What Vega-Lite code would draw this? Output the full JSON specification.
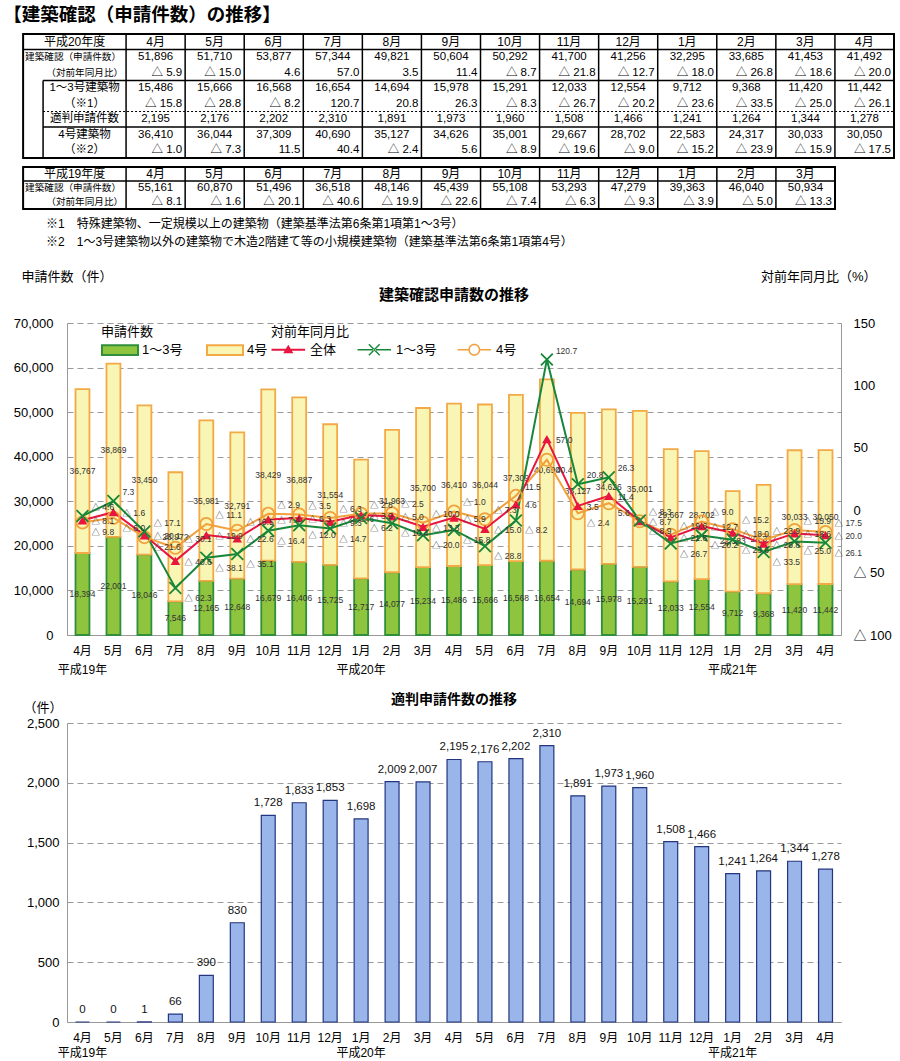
{
  "$schema": "https://vega.github.io/schema/vega-lite/v6.json",
  "padding": {"left": 3, "top": 5, "right": 2, "bottom": 0},
  "title": {"text": "【建築確認（申請件数）の推移】", "anchor": "start", "frame": "bounds", "fontSize": 18.5, "fontWeight": "bold", "dx": -10, "offset": 9},
  "config": {
    "font": "Liberation Sans, Noto Sans CJK JP",
    "view": {"stroke": null},
    "axis": {"labelColor": "#000", "titleColor": "#000"},
    "legend": {"labelColor": "#000", "titleColor": "#000"},
    "title": {"color": "#000"}
  },
  "datasets": {
    "m": [
      {"k": "1904", "tbl": 2, "b13": 18394, "b4": 36767, "tot": 55161, "tp": -8.1, "b13p": -4.6, "b4p": -9.8, "tk": 0},
      {"k": "1905", "tbl": 2, "b13": 22001, "b4": 38869, "tot": 60870, "tp": -1.6, "b13p": 7.3, "b4p": -6.0, "tk": 0},
      {"k": "1906", "tbl": 2, "b13": 18046, "b4": 33450, "tot": 51496, "tp": -20.1, "b13p": -17.1, "b4p": -21.6, "tk": 1},
      {"k": "1907", "tbl": 2, "b13": 7546, "b4": 28972, "tot": 36518, "tp": -40.6, "b13p": -62.3, "b4p": -30.1, "tk": 66},
      {"k": "1908", "tbl": 2, "b13": 12165, "b4": 35981, "tot": 48146, "tp": -19.9, "b13p": -38.1, "b4p": -11.1, "tk": 390},
      {"k": "1909", "tbl": 2, "b13": 12648, "b4": 32791, "tot": 45439, "tp": -22.6, "b13p": -35.1, "b4p": -16.5, "tk": 830},
      {"k": "1910", "tbl": 2, "b13": 16679, "b4": 38429, "tot": 55108, "tp": -7.4, "b13p": -16.4, "b4p": -2.9, "tk": 1728},
      {"k": "1911", "tbl": 2, "b13": 16406, "b4": 36887, "tot": 53293, "tp": -6.3, "b13p": -12.0, "b4p": -3.5, "tk": 1833},
      {"k": "1912", "tbl": 2, "b13": 15725, "b4": 31554, "tot": 47279, "tp": -9.3, "b13p": -14.7, "b4p": -6.3, "tk": 1853},
      {"k": "2001", "tbl": 2, "b13": 12717, "b4": 26646, "tot": 39363, "tp": -3.9, "b13p": -6.2, "b4p": -2.8, "tk": 1698},
      {"k": "2002", "tbl": 2, "b13": 14077, "b4": 31963, "tot": 46040, "tp": -5.0, "b13p": -10.4, "b4p": -2.5, "tk": 2009},
      {"k": "2003", "tbl": 2, "b13": 15234, "b4": 35700, "tot": 50934, "tp": -13.3, "b13p": -20.0, "b4p": -10.0, "tk": 2007},
      {"k": "2004", "tbl": 1, "b13": 15486, "b4": 36410, "tot": 51896, "tp": -5.9, "b13p": -15.8, "b4p": -1.0, "tk": 2195},
      {"k": "2005", "tbl": 1, "b13": 15666, "b4": 36044, "tot": 51710, "tp": -15.0, "b13p": -28.8, "b4p": -7.3, "tk": 2176},
      {"k": "2006", "tbl": 1, "b13": 16568, "b4": 37309, "tot": 53877, "tp": 4.6, "b13p": -8.2, "b4p": 11.5, "tk": 2202},
      {"k": "2007", "tbl": 1, "b13": 16654, "b4": 40690, "tot": 57344, "tp": 57.0, "b13p": 120.7, "b4p": 40.4, "tk": 2310},
      {"k": "2008", "tbl": 1, "b13": 14694, "b4": 35127, "tot": 49821, "tp": 3.5, "b13p": 20.8, "b4p": -2.4, "tk": 1891},
      {"k": "2009", "tbl": 1, "b13": 15978, "b4": 34626, "tot": 50604, "tp": 11.4, "b13p": 26.3, "b4p": 5.6, "tk": 1973},
      {"k": "2010", "tbl": 1, "b13": 15291, "b4": 35001, "tot": 50292, "tp": -8.7, "b13p": -8.3, "b4p": -8.9, "tk": 1960},
      {"k": "2011", "tbl": 1, "b13": 12033, "b4": 29667, "tot": 41700, "tp": -21.8, "b13p": -26.7, "b4p": -19.6, "tk": 1508},
      {"k": "2012", "tbl": 1, "b13": 12554, "b4": 28702, "tot": 41256, "tp": -12.7, "b13p": -20.2, "b4p": -9.0, "tk": 1466},
      {"k": "2101", "tbl": 1, "b13": 9712, "b4": 22583, "tot": 32295, "tp": -18.0, "b13p": -23.6, "b4p": -15.2, "tk": 1241},
      {"k": "2102", "tbl": 1, "b13": 9368, "b4": 24317, "tot": 33685, "tp": -26.8, "b13p": -33.5, "b4p": -23.9, "tk": 1264},
      {"k": "2103", "tbl": 1, "b13": 11420, "b4": 30033, "tot": 41453, "tp": -18.6, "b13p": -25.0, "b4p": -15.9, "tk": 1344},
      {"k": "2104", "tbl": 1, "b13": 11442, "b4": 30050, "tot": 41492, "tp": -20.0, "b13p": -26.1, "b4p": -17.5, "tk": 1278}
    ]
  },
  "spacing": 19,
  "resolve": {"scale": {"color": "independent", "fill": "independent", "stroke": "independent", "shape": "independent"}},
  "vconcat": [
    {
      "spacing": 7,
      "vconcat": [
        {
          "width": 827, "height": 124,
          "data": {"name": "m"},
          "transform": [
            {"filter": "datum.tbl == 1"},
            {"window": [{"op": "row_number", "as": "rn"}], "sort": [{"field": "k"}]},
            {"calculate": "datum.rn - 1", "as": "i"},
            {"calculate": "datum.i + 0.5", "as": "xc"},
            {"calculate": "datum.i + 1", "as": "xr"},
            {"calculate": "toNumber(slice(datum.k, 2)) + '月'", "as": "ml"}
          ],
          "layer": [
            {"mark": {"type": "text", "fontSize": 12},
             "encoding": {
               "x": {"field": "xc", "type": "quantitative", "scale": {"domain": [-1, 13], "nice": false, "zero": false}, "axis": null},
               "y": {"datum": 0, "type": "quantitative", "scale": {"domain": [-0.5, 7.5], "nice": false, "zero": false, "reverse": true}, "axis": null},
               "text": {"field": "ml"}}},
            {"transform": [
               {"fold": ["tot", "b13", "tk", "b4"], "as": ["key", "val"]},
               {"calculate": "indexof(['hdr','tot','tp','b13','b13p','tk','b4','b4p'], datum.key)", "as": "row"},
               {"calculate": "format(datum.val, ',')", "as": "txt"}],
             "mark": {"type": "text", "fontSize": 11.5},
             "encoding": {"x": {"field": "xc", "type": "quantitative"}, "y": {"field": "row", "type": "quantitative"}, "text": {"field": "txt"}}},
            {"transform": [
               {"fold": ["tp", "b13p", "b4p"], "as": ["key", "val"]},
               {"calculate": "indexof(['hdr','tot','tp','b13','b13p','tk','b4','b4p'], datum.key)", "as": "row"},
               {"calculate": "(datum.val < 0 ? '△ ' : '') + format(abs(datum.val), '.1f')", "as": "txt"}],
             "mark": {"type": "text", "fontSize": 11.5, "align": "right", "dx": -3},
             "encoding": {"x": {"field": "xr", "type": "quantitative"}, "y": {"field": "row", "type": "quantitative"}, "text": {"field": "txt"}}},
            {"mark": {"type": "rule", "strokeWidth": 1.5, "color": "#000"},
             "encoding": {"x": {"field": "i", "type": "quantitative"}, "y": {"datum": -0.5}, "y2": {"datum": 7.5}}},
            {"data": {"values": [{"t": "平成20年度"}]}, "mark": {"type": "text", "fontSize": 12},
             "encoding": {"x": {"datum": -0.8715}, "y": {"datum": 0}, "text": {"field": "t"}}},
            {"data": {"values": [{"t": "建築確認（申請件数）"}]}, "mark": {"type": "text", "fontSize": 9.6, "align": "left", "dx": 2},
             "encoding": {"x": {"datum": -1.743}, "y": {"datum": 1}, "text": {"field": "t"}}},
            {"data": {"values": [{"t": "（対前年同月比）"}]}, "mark": {"type": "text", "fontSize": 9.6, "align": "right", "dx": -3},
             "encoding": {"x": {"datum": 0}, "y": {"datum": 2}, "text": {"field": "t"}}},
            {"data": {"values": [{"t": "1～3号建築物", "r": 3}, {"t": "（※1）", "r": 4}, {"t": "適判申請件数", "r": 5}, {"t": "4号建築物", "r": 6}, {"t": "（※2）", "r": 7}]},
             "mark": {"type": "text", "fontSize": 11.5},
             "encoding": {"x": {"datum": -0.7025}, "y": {"field": "r", "type": "quantitative"}, "text": {"field": "t"}}},
            {"data": {"values": [{}]}, "mark": {"type": "rule", "strokeWidth": 1.5, "color": "#000"},
             "encoding": {"x": {"datum": -1.405}, "y": {"datum": 2.5}, "y2": {"datum": 7.5}}},
            {"data": {"values": [{}]}, "mark": {"type": "rule", "strokeWidth": 1.5, "color": "#000"},
             "encoding": {"y": {"datum": 0.5}, "x": {"datum": -1.743}, "x2": {"datum": 13}}},
            {"data": {"values": [{}]}, "mark": {"type": "rule", "strokeWidth": 1.5, "color": "#000"},
             "encoding": {"y": {"datum": 2.5}, "x": {"datum": -1.405}, "x2": {"datum": 13}}},
            {"data": {"values": [{}]}, "mark": {"type": "rule", "strokeWidth": 1.2, "strokeDash": [2, 2], "color": "#000"},
             "encoding": {"y": {"datum": 4.5}, "x": {"datum": -1.405}, "x2": {"datum": 13}}},
            {"data": {"values": [{}]}, "mark": {"type": "rule", "strokeWidth": 1.5, "color": "#000"},
             "encoding": {"y": {"datum": 5.5}, "x": {"datum": -1.405}, "x2": {"datum": 13}}},
            {"data": {"values": [{}]}, "mark": {"type": "rect", "fillOpacity": 0, "stroke": "#000", "strokeWidth": 2},
             "encoding": {"x": {"datum": -1.743}, "x2": {"datum": 13}, "y": {"datum": -0.5}, "y2": {"datum": 7.5}}}
          ]
        },
        {
          "spacing": 5,
          "vconcat": [
            {
              "width": 768, "height": 42,
              "data": {"name": "m"},
              "transform": [
                {"filter": "datum.tbl == 2"},
                {"window": [{"op": "row_number", "as": "rn"}], "sort": [{"field": "k"}]},
                {"calculate": "datum.rn - 1", "as": "i"},
                {"calculate": "datum.i + 0.5", "as": "xc"},
                {"calculate": "datum.i + 1", "as": "xr"},
                {"calculate": "toNumber(slice(datum.k, 2)) + '月'", "as": "ml"},
                {"calculate": "format(datum.tot, ',')", "as": "tt"},
                {"calculate": "(datum.tp < 0 ? '△ ' : '') + format(abs(datum.tp), '.1f')", "as": "pt"}
              ],
              "layer": [
                {"mark": {"type": "text", "fontSize": 12},
                 "encoding": {
                   "x": {"field": "xc", "type": "quantitative", "scale": {"domain": [-1, 12], "nice": false, "zero": false}, "axis": null},
                   "y": {"datum": 0, "type": "quantitative", "scale": {"domain": [-0.5, 2.5], "nice": false, "zero": false, "reverse": true}, "axis": null},
                   "text": {"field": "ml"}}},
                {"mark": {"type": "text", "fontSize": 11.5},
                 "encoding": {"x": {"field": "xc", "type": "quantitative"}, "y": {"datum": 1}, "text": {"field": "tt"}}},
                {"mark": {"type": "text", "fontSize": 11.5, "align": "right", "dx": -3},
                 "encoding": {"x": {"field": "xr", "type": "quantitative"}, "y": {"datum": 2}, "text": {"field": "pt"}}},
                {"mark": {"type": "rule", "strokeWidth": 1.5, "color": "#000"},
                 "encoding": {"x": {"field": "i", "type": "quantitative"}, "y": {"datum": -0.5}, "y2": {"datum": 2.5}}},
                {"data": {"values": [{"t": "平成19年度"}]}, "mark": {"type": "text", "fontSize": 12},
                 "encoding": {"x": {"datum": -0.8715}, "y": {"datum": 0}, "text": {"field": "t"}}},
                {"data": {"values": [{"t": "建築確認（申請件数）"}]}, "mark": {"type": "text", "fontSize": 9.6, "align": "left", "dx": 2},
                 "encoding": {"x": {"datum": -1.743}, "y": {"datum": 1}, "text": {"field": "t"}}},
                {"data": {"values": [{"t": "（対前年同月比）"}]}, "mark": {"type": "text", "fontSize": 9.6, "align": "right", "dx": -3},
                 "encoding": {"x": {"datum": 0}, "y": {"datum": 2}, "text": {"field": "t"}}},
                {"data": {"values": [{}]}, "mark": {"type": "rule", "strokeWidth": 1.5, "color": "#000"},
                 "encoding": {"y": {"datum": 0.5}, "x": {"datum": -1.743}, "x2": {"datum": 12}}},
                {"data": {"values": [{}]}, "mark": {"type": "rect", "fillOpacity": 0, "stroke": "#000", "strokeWidth": 2},
                 "encoding": {"x": {"datum": -1.743}, "x2": {"datum": 12}, "y": {"datum": -0.5}, "y2": {"datum": 2.5}}}
              ]
            },
            {
              "width": 827, "height": 36,
              "data": {"values": [
                {"t": "※1　特殊建築物、一定規模以上の建築物（建築基準法第6条第1項第1～3号）"},
                {"t": "※2　1～3号建築物以外の建築物で木造2階建て等の小規模建築物（建築基準法第6条第1項第4号）"}
              ]},
              "mark": {"type": "text", "align": "left", "fontSize": 12},
              "encoding": {
                "x": {"datum": -1.354, "type": "quantitative", "scale": {"domain": [-1, 13], "nice": false, "zero": false}, "axis": null},
                "y": {"field": "t", "type": "nominal", "axis": null},
                "text": {"field": "t"}
              }
            }
          ]
        }
      ]
    },
    {
      "spacing": 18,
      "resolve": {"scale": {"color": "independent", "fill": "independent", "stroke": "independent", "shape": "independent"}},
      "vconcat": [
        {
          "width": 774, "height": 312,
          "title": {"text": "建築確認申請数の推移", "fontSize": 15, "fontWeight": "bold", "offset": -33},
          "data": {"name": "m"},
          "encoding": {
            "x": {"field": "k", "type": "ordinal", "scale": {"paddingInner": 0, "paddingOuter": 0},
                  "axis": {"title": null, "labelAngle": 0, "ticks": false, "domainColor": "#999", "labelFontSize": 12, "labelPadding": 10, "labelLineHeight": 19, "labelOverlap": false, "labelBaseline": "top",
                           "labelExpr": "[toNumber(slice(datum.value, 2)) + '月', datum.value == '1904' ? '平成19年' : (slice(datum.value, 2) == '01' ? '平成' + slice(datum.value, 0, 2) + '年' : '')]"}}
          },
          "layer": [
            {
              "transform": [
                {"fold": ["b13", "b4"], "as": ["ser", "val"]},
                {"calculate": "datum.ser == 'b13' ? '1～3号' : '4号'", "as": "sn"}
              ],
              "layer": [
                {"mark": {"type": "bar", "width": {"band": 0.45}, "strokeWidth": 1.8},
                 "encoding": {
                   "y": {"field": "val", "type": "quantitative", "stack": "zero", "scale": {"domain": [0, 70000], "nice": false},
                         "axis": {"title": "申請件数（件）", "titleAngle": 0, "titleAlign": "left", "titleBaseline": "middle", "titleX": -46, "titleY": -47, "titleFontSize": 13, "titleFontWeight": "normal",
                                  "values": [0, 10000, 20000, 30000, 40000, 50000, 60000, 70000], "labelExpr": "format(datum.value, ',')", "labelFontSize": 13, "labelPadding": 14, "ticks": false, "tickSize": 0,
                                  "grid": true, "gridDash": [6, 4], "gridColor": "#999", "domainColor": "#999"}},
                   "fill": {"field": "sn", "type": "nominal", "scale": {"domain": ["1～3号", "4号"], "range": ["#8fc43f", "#f8f5b5"]},
                            "legend": {"title": "申請件数", "orient": "none", "legendX": 34, "legendY": 3, "direction": "horizontal", "titleFontSize": 13, "titleFontWeight": "normal", "labelFontSize": 13, "symbolType": "M-1,-0.8H5V0.8H-1Z", "symbolSize": 144, "symbolStrokeWidth": 2, "labelOffset": 27, "columnPadding": 20, "padding": 0, "titlePadding": 4}},
                   "stroke": {"field": "sn", "type": "nominal", "scale": {"domain": ["1～3号", "4号"], "range": ["#2f8f3a", "#f3a945"]},
                            "legend": {"title": "申請件数", "orient": "none", "legendX": 34, "legendY": 3, "direction": "horizontal", "titleFontSize": 13, "titleFontWeight": "normal", "labelFontSize": 13, "symbolType": "M-1,-0.8H5V0.8H-1Z", "symbolSize": 144, "symbolStrokeWidth": 2, "labelOffset": 27, "columnPadding": 20, "padding": 0, "titlePadding": 4}},
                   "order": {"field": "ser", "type": "ordinal"}
                 }},
                {"transform": [
                   {"stack": "val", "groupby": ["k"], "sort": [{"field": "ser"}], "as": ["v0", "v1"]},
                   {"calculate": "(datum.v0 + datum.v1) / 2", "as": "mid"},
                   {"calculate": "format(datum.val, ',')", "as": "lab"}],
                 "mark": {"type": "text", "fontSize": 8.5, "color": "#333"},
                 "encoding": {"y": {"field": "mid", "type": "quantitative", "scale": {"domain": [0, 70000], "nice": false}}, "text": {"field": "lab"}}}
              ]
            },
            {
              "transform": [
                {"fold": ["tp", "b13p", "b4p"], "as": ["ps", "pv"]},
                {"calculate": "datum.ps == 'tp' ? '全体' : (datum.ps == 'b13p' ? '1～3号' : '4号')", "as": "sn2"},
                {"calculate": "(datum.pv < 0 ? '△ ' : '') + format(abs(datum.pv), '.1f')", "as": "plab"},
                {"window": [{"op": "row_number", "as": "rk"}], "groupby": ["k"], "sort": [{"field": "pv", "order": "descending"}]}
              ],
              "layer": [
                {"transform": [{"filter": "datum.sn2 == '4号'"}],
                 "mark": {"type": "line", "strokeWidth": 2, "color": "#f2a03c"},
                 "encoding": {
                   "y": {"field": "pv", "type": "quantitative", "scale": {"domain": [-100, 150], "nice": false, "zero": false},
                         "axis": {"orient": "right", "values": [-100, -50, 0, 50, 100, 150], "labelExpr": "datum.value < 0 ? '△ ' + abs(datum.value) : '' + datum.value",
                                  "grid": false, "ticks": false, "tickSize": 0, "labelPadding": 12, "labelFontSize": 13, "domainColor": "#999",
                                  "title": "対前年同月比（%）", "titleAngle": 0, "titleAlign": "right", "titleBaseline": "middle", "titleX": 35, "titleY": -47, "titleFontSize": 13, "titleFontWeight": "normal"}}
                 }},
                {"transform": [{"filter": "datum.sn2 == '全体'"}],
                 "mark": {"type": "line", "strokeWidth": 2, "color": "#e8163f"},
                 "encoding": {"y": {"field": "pv", "type": "quantitative"}}},
                {"transform": [{"filter": "datum.sn2 == '1～3号'"}],
                 "mark": {"type": "line", "strokeWidth": 2, "color": "#17873a"},
                 "encoding": {"y": {"field": "pv", "type": "quantitative"}}},
                {"transform": [{"filter": "datum.sn2 == '4号'"}],
                 "mark": {"type": "point", "shape": "circle", "filled": false, "color": "#f2a03c", "size": 150, "strokeWidth": 1.8, "opacity": 1},
                 "encoding": {"y": {"field": "pv", "type": "quantitative"}}},
                {"transform": [{"filter": "datum.sn2 == '全体'"}],
                 "mark": {"type": "point", "shape": "triangle-up", "filled": true, "color": "#e8163f", "size": 90, "opacity": 1},
                 "encoding": {"y": {"field": "pv", "type": "quantitative"}}},
                {"transform": [{"filter": "datum.sn2 == '1～3号'"}],
                 "mark": {"type": "point", "shape": "M-1,-1L1,1M-1,1L1,-1", "filled": false, "color": "#17873a", "size": 140, "strokeWidth": 1.8, "opacity": 1},
                 "encoding": {"y": {"field": "pv", "type": "quantitative"}}},
                {"transform": [{"filter": "datum.rk == 1"}],
                 "mark": {"type": "text", "align": "left", "dx": 9, "dy": -9, "fontSize": 8.5, "color": "#333"},
                 "encoding": {"y": {"field": "pv", "type": "quantitative"}, "text": {"field": "plab"}}},
                {"transform": [{"filter": "datum.rk == 2"}],
                 "mark": {"type": "text", "align": "left", "dx": 9, "dy": 1, "fontSize": 8.5, "color": "#333"},
                 "encoding": {"y": {"field": "pv", "type": "quantitative"}, "text": {"field": "plab"}}},
                {"transform": [{"filter": "datum.rk == 3"}],
                 "mark": {"type": "text", "align": "left", "dx": 9, "dy": 10, "fontSize": 8.5, "color": "#333"},
                 "encoding": {"y": {"field": "pv", "type": "quantitative"}, "text": {"field": "plab"}}},
                {"transform": [{"filter": "false"}],
                 "mark": {"type": "point", "filled": true, "opacity": 1, "size": 144, "strokeWidth": 0},
                 "encoding": {
                   "y": {"field": "pv", "type": "quantitative"},
                   "color": {"field": "sn2", "type": "nominal", "scale": {"domain": ["全体", "1～3号", "4号"], "range": ["#e8163f", "#17873a", "#f2a03c"]},
                             "legend": {"title": "対前年同月比", "orient": "none", "legendX": 204, "legendY": 3, "direction": "horizontal", "titleFontSize": 13, "titleFontWeight": "normal", "labelFontSize": 13, "symbolSize": 144, "symbolStrokeWidth": 0, "labelOffset": 26, "columnPadding": 20, "padding": 0, "titlePadding": 4}},
                   "shape": {"field": "sn2", "type": "nominal",
                             "scale": {"domain": ["全体", "1～3号", "4号"], "range": [
                               "M-1,-0.15H4.6V0.15H-1Z M0.95,0.6L1.8,-0.85L2.65,0.6Z",
                               "M-1,-0.13H4.6V0.13H-1Z M0.815,-0.815L2.615,0.985L2.785,0.815L0.985,-0.985Z M0.985,0.985L2.785,-0.815L2.615,-0.985L0.815,0.815Z",
                               "M-1,-0.13H0.8V0.13H-1Z M2.8,-0.13H4.6V0.13H2.8Z M2.8,0A1,1 0 1,0 0.8,0A1,1 0 1,0 2.8,0Z M2.55,0A0.75,0.75 0 1,1 1.05,0A0.75,0.75 0 1,1 2.55,0Z"]},
                             "legend": {"title": "対前年同月比", "orient": "none", "legendX": 204, "legendY": 3, "direction": "horizontal", "titleFontSize": 13, "titleFontWeight": "normal", "labelFontSize": 13, "symbolSize": 144, "symbolStrokeWidth": 0, "labelOffset": 26, "columnPadding": 20, "padding": 0, "titlePadding": 4}}
                 }}
              ]
            }
          ],
          "resolve": {"scale": {"y": "independent"}}
        },
        {
          "width": 774, "height": 299,
          "title": {"text": "適判申請件数の推移", "fontSize": 14, "fontWeight": "bold", "offset": -6},
          "data": {"name": "m"},
          "encoding": {
            "x": {"field": "k", "type": "ordinal", "scale": {"paddingInner": 0, "paddingOuter": 0},
                  "axis": {"title": null, "labelAngle": 0, "ticks": false, "domainColor": "#999", "labelFontSize": 12, "labelPadding": 10, "labelLineHeight": 15, "labelOverlap": false, "labelBaseline": "top",
                           "labelExpr": "[toNumber(slice(datum.value, 2)) + '月', datum.value == '1904' ? '平成19年' : (slice(datum.value, 2) == '01' ? '平成' + slice(datum.value, 0, 2) + '年' : '')]"}},
            "y": {"field": "tk", "type": "quantitative", "scale": {"domain": [0, 2500], "nice": false},
                  "axis": {"title": "（件）", "titleAngle": 0, "titleAlign": "left", "titleBaseline": "middle", "titleX": -44, "titleY": -16, "titleFontSize": 13, "titleFontWeight": "normal",
                           "values": [0, 500, 1000, 1500, 2000, 2500], "labelExpr": "format(datum.value, ',')", "labelFontSize": 13, "labelPadding": 8, "ticks": false, "tickSize": 0,
                           "grid": true, "gridDash": [6, 4], "gridColor": "#999", "domainColor": "#999"}}
          },
          "layer": [
            {"mark": {"type": "bar", "width": {"band": 0.45}, "fill": "#9ab5e9", "stroke": "#23357f", "strokeWidth": 1.2}},
            {"mark": {"type": "text", "dy": -12, "fontSize": 11.5, "color": "#111"},
             "encoding": {"text": {"field": "tk", "type": "quantitative", "format": ","}}}
          ]
        }
      ]
    }
  ]
}
